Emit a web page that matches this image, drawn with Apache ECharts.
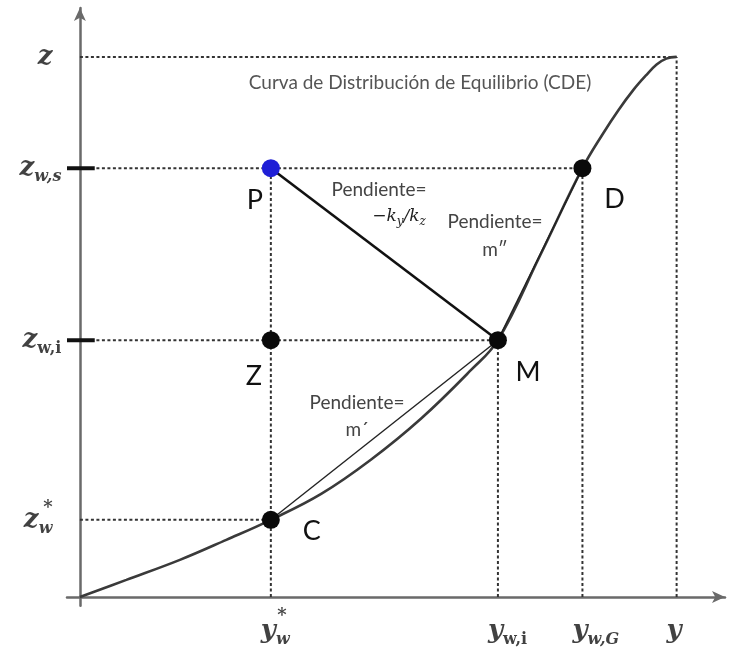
<!DOCTYPE html>
<html>
<head>
<meta charset="utf-8">
<script src="https://cdn.jsdelivr.net/npm/echarts@6/dist/echarts.min.js"></script>
<style>
  html, body { margin: 0; padding: 0; background: #fff; }
  #c { width: 731px; height: 651px; }
</style>
</head>
<body>
<div id="c"></div>
<script>
// Equilibrium distribution curve (CDE): y along the horizontal axis, z along the vertical one
const cdeY = [0, 7.2, 15.5, 22.7, 29.6, 37.4, 45.1, 52.9, 60.6, 64.8, 71.3, 77.9, 81.1, 83.5, 85.8, 87.7, 89.4, 90.9, 92.5];
const cdeZ = [0, 2.9, 6.3, 9.7, 13.1, 17.5, 23.3, 30.3, 38.5, 43.6, 57.9, 72.8, 78.7, 82.7, 86.1, 88.5, 90.4, 91.4, 91.7];

// Reference values on the horizontal axis
const yRefNames = ['yStar', 'yWi', 'yWG', 'yMax'];
const yRefValues = [29.6, 64.8, 77.9, 92.5];

// Reference values on the vertical axis
const zRefNames = ['zMax', 'zWs', 'zWi', 'zStar'];
const zRefValues = [91.7, 72.8, 43.6, 13.1];

// Named points of the construction
const pointNames = ['P', 'Z', 'C', 'M', 'D'];
const pointY = [29.6, 29.6, 29.6, 64.8, 77.9];
const pointZ = [72.8, 43.6, 13.1, 43.6, 72.8];

const yRef = Object.fromEntries(yRefNames.map((n, i) => [n, yRefValues[i]]));
const zRef = Object.fromEntries(zRefNames.map((n, i) => [n, zRefValues[i]]));
const pt = Object.fromEntries(pointNames.map((n, i) => [n, [pointY[i], pointZ[i]]]));

const MATH = "'DejaVu Serif', serif";
const SANS = "Lato, 'Open Sans', sans-serif";

const mathRich = {
  m:   { fontFamily: MATH, fontStyle: 'italic', fontWeight: 'bold', fontSize: 26, color: '#111', lineHeight: 34 },
  si:  { fontFamily: MATH, fontStyle: 'italic', fontWeight: 'bold', fontSize: 16, color: '#111', lineHeight: 17, verticalAlign: 'bottom' },
  su:  { fontFamily: MATH, fontWeight: 'bold', fontSize: 16, color: '#111', lineHeight: 17, verticalAlign: 'bottom' },
  sup: { fontFamily: MATH, fontWeight: 'bold', fontSize: 18, color: '#111' }
};

const guide = { type: [3, 2.5], color: '#333', width: 2 };

function segment(name, a, b, lineStyle, z) {
  return {
    type: 'line', name, data: [a, b], symbol: 'none', silent: true,
    lineStyle, z: z || 2, animation: false
  };
}

// dotted guides from the axes to the points
const guides = [
  segment('gZMax', [0, zRef.zMax], [yRef.yMax, zRef.zMax], guide),
  segment('gZWs', [0, zRef.zWs], pt.D, guide),
  segment('gZWi', [0, zRef.zWi], pt.M, guide),
  segment('gZStar', [0, zRef.zStar], pt.C, guide),
  segment('gYStar', [yRef.yStar, 0], pt.P, guide),
  segment('gYWi', [yRef.yWi, 0], pt.M, guide),
  segment('gYWG', [yRef.yWG, 0], [yRef.yWG, zRef.zWs], guide),
  segment('gYMax', [yRef.yMax, 0], [yRef.yMax, zRef.zMax], guide)
];

// short thick ticks on the vertical axis
const ticks = [zRef.zWs, zRef.zWi].map((v, i) =>
  segment('tick' + i, [-2, v], [2.3, v], { color: '#111', width: 4, type: 'solid' }, 4));

// straight segments: operating line P–M and chords C–M, M–D
const chords = [
  segment('opLine', pt.P, pt.M, { color: '#111', width: 2.6, type: 'solid' }, 5),
  segment('chordCM', pt.C, pt.M, { color: '#222', width: 1.4, type: 'solid' }, 5),
  segment('chordMD', pt.M, pt.D, { color: '#222', width: 1.4, type: 'solid' }, 5)
];

const curve = {
  type: 'line', name: 'CDE', symbol: 'none', smooth: 0.4,
  data: cdeY.map((y, i) => [y, cdeZ[i]]),
  lineStyle: { color: '#3a3a3a', width: 2.6 }, z: 4, animation: false
};

// point markers with their letters
const pointLabelOffset = { P: [-16, 32], Z: [-17, 36], C: [41, 11], M: [30, 32], D: [32, 31] };
const points = {
  type: 'scatter', name: 'points', symbolSize: 18, z: 8, animation: false,
  data: pointNames.map((n, i) => ({
    value: [pointY[i], pointZ[i]],
    itemStyle: { color: n === 'P' ? '#1f1fd6' : '#0a0a0a', opacity: 1 },
    label: {
      show: true, formatter: n, position: 'inside', offset: pointLabelOffset[n],
      fontFamily: SANS, fontSize: 27, color: '#111'
    }
  }))
};

// axis level labels
const zLabelText = { zMax: '{m|z}', zWs: '{m|z}{si|w,s}', zWi: '{m|z}{su|w,i}', zStar: '{m|z}{si|w}' };
const zLabelDist = { zMax: 27, zWs: 18, zWi: 18, zStar: 27 };
const yLabelText = { yStar: '{m|y}{si|w}', yWi: '{m|y}{su|w,i}', yWG: '{m|y}{si|w,G}', yMax: '{m|y}' };

const hidden = { color: 'rgba(0,0,0,0)' };
const levelLabels = {
  type: 'scatter', name: 'levels', symbolSize: 1, itemStyle: hidden, z: 9, animation: false, silent: true,
  data: [
    ...zRefNames.map((n, i) => ({
      value: [0, zRefValues[i]],
      label: { show: true, formatter: zLabelText[n], position: 'left', distance: zLabelDist[n], rich: mathRich }
    })),
    ...yRefNames.map((n, i) => ({
      value: [yRefValues[i], 0],
      label: { show: true, formatter: yLabelText[n], position: 'inside', align: 'left', offset: [-10, 34], rich: mathRich }
    })),
    // asterisks of the starred quantities
    { value: [0, zRef.zStar], label: { show: true, formatter: '{sup|*}', position: 'inside', offset: [-32, -11], rich: mathRich } },
    { value: [yRef.yStar, 0], label: { show: true, formatter: '{sup|*}', position: 'inside', offset: [11, 19], rich: mathRich } }
  ]
};

const axisBase = {
  type: 'value',
  axisLine: { show: true, onZero: true, symbol: ['none', 'arrow'], symbolSize: [9, 13],
    lineStyle: { color: '#6a6a6a', width: 2.5 } },
  axisTick: { show: false }, axisLabel: { show: false }, splitLine: { show: false }
};

const note = (text, x, y, extra) => ({
  type: 'text', silent: true, z: 10,
  style: Object.assign({ text, x, y, textAlign: 'center', textVerticalAlign: 'middle',
    fontFamily: SANS, fontSize: 19, fill: '#444' }, extra || {})
});

const option = {
  backgroundColor: '#fff',
  animation: false,
  grid: { left: 67, right: 6, top: 8, bottom: 45.2, containLabel: false },
  xAxis: Object.assign({}, axisBase, { min: -2, max: 100 }),
  yAxis: Object.assign({}, axisBase, { min: -1.5, max: 100 }),
  series: [...guides, ...ticks, curve, ...chords, points, levelLabels],
  graphic: [
    note('Curva de Distribución de Equilibrio (CDE)', 420, 83, { fill: '#555' }),
    note('Pendiente=', 379, 190),
    note('{k|−k}{s|y}{k|/k}{s|z}', 399, 217, {
      rich: {
        k: { fontFamily: MATH, fontStyle: 'italic', fontSize: 17, fill: '#222', lineHeight: 22 },
        s: { fontFamily: MATH, fontStyle: 'italic', fontSize: 12, fill: '#222', lineHeight: 12, verticalAlign: 'bottom' }
      }
    }),
    note('Pendiente=', 495, 222),
    note('m″', 495, 250),
    note('Pendiente=', 357, 403),
    note('m´', 357, 430)
  ]
};

const chart = echarts.init(document.getElementById('c'));
chart.setOption(option);
</script>
</body>
</html>
